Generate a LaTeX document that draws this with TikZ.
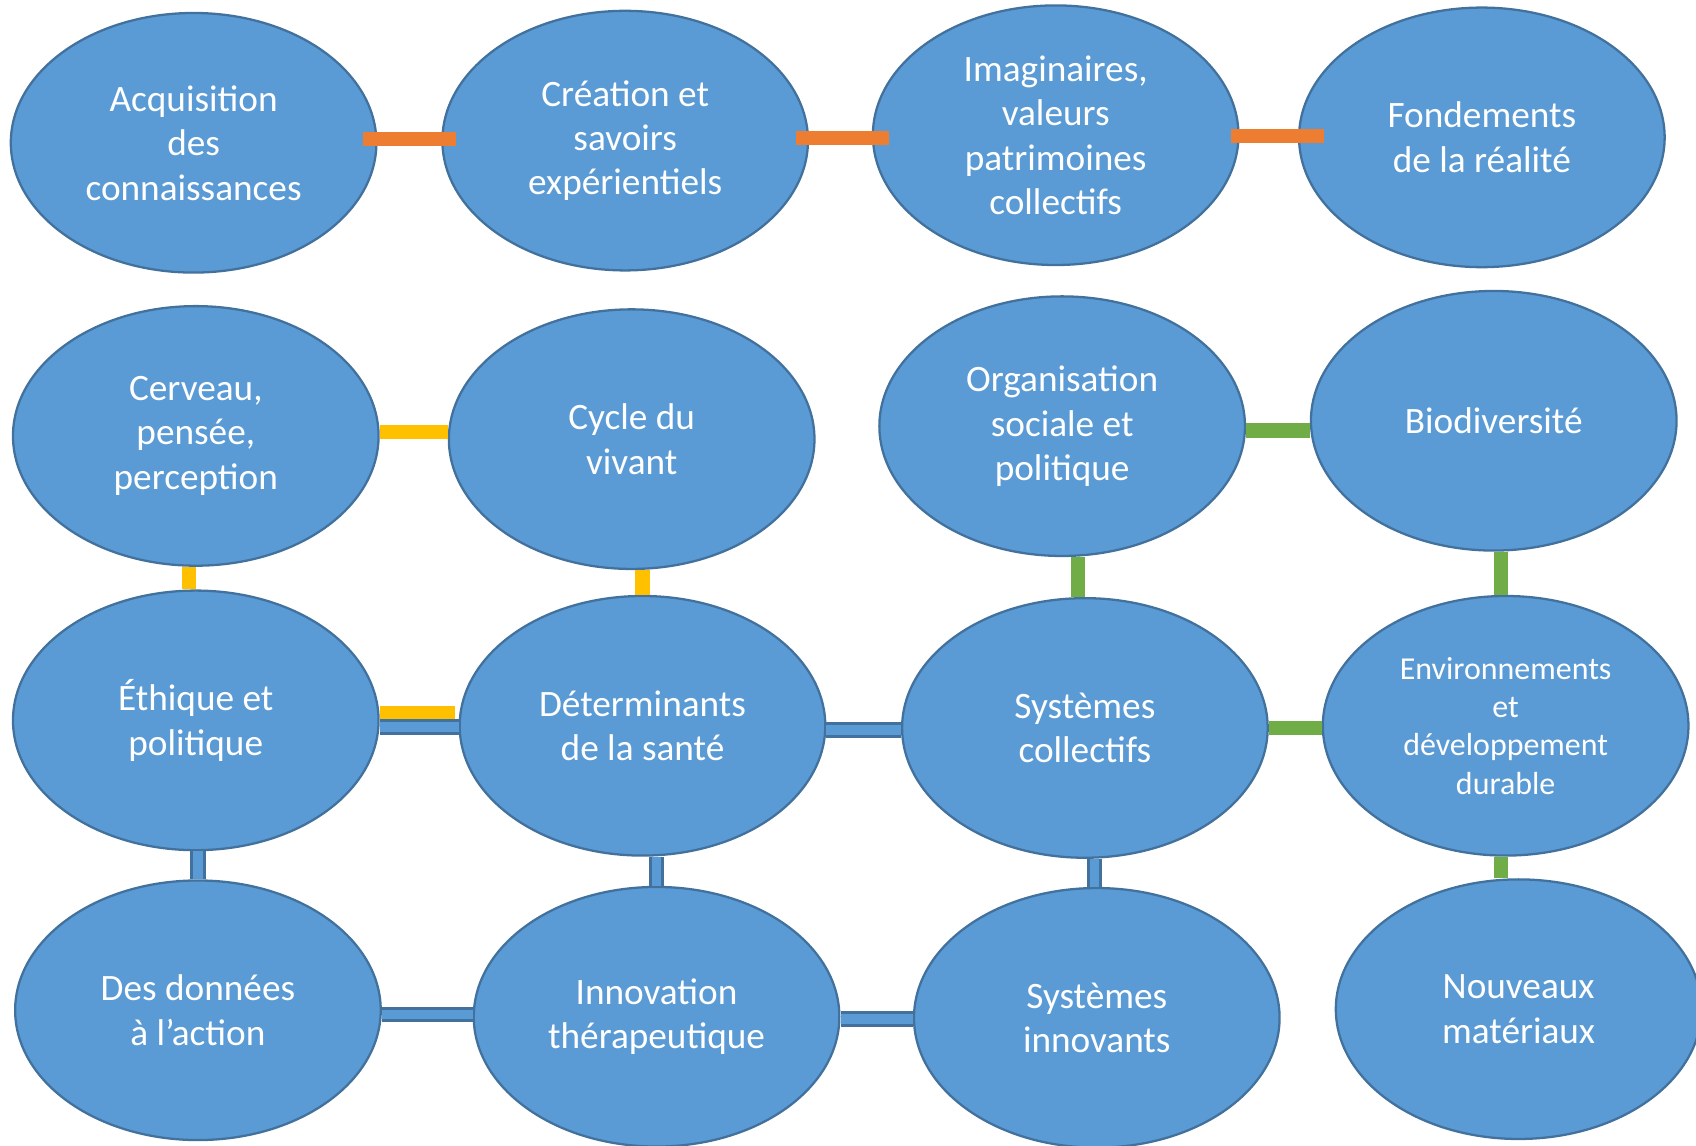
\documentclass[tikz,border=0pt]{standalone}
\usepackage{fontspec}
\setmainfont{Carlito}
\usetikzlibrary{shapes.geometric,calc}
\definecolor{bleu}{HTML}{5B9BD5}
\definecolor{bleufonce}{HTML}{41719C}
\definecolor{orangeb}{HTML}{ED7D31}
\definecolor{jauneb}{HTML}{FFC000}
\definecolor{vertb}{HTML}{70AD47}
\begin{document}
\begin{tikzpicture}[every node/.style={ellipse, fill=bleu, draw=bleufonce, line width=0.6pt, minimum width=3.38cm, minimum height=2.4cm, inner sep=0pt, align=center, text=white, font=\fontsize{9.8}{11.7}\selectfont},
orangelien/.style={draw=orangeb, line width=0.13cm},
jaunelien/.style={draw=jauneb, line width=0.13cm},
vertlien/.style={draw=vertb, line width=0.13cm},
bleulien/.style={draw=bleufonce, double=bleu, double distance=0.09cm, line width=0.75pt}]
\useasboundingbox (0,0) rectangle (15.68,-10.59);

\node (a1) at (1.79,-1.32) {Acquisition\\des\\connaissances};
\node (a2) at (5.78,-1.30) {Création et\\savoirs\\expérientiels};
\node (a3) at (9.76,-1.25) {Imaginaires,\\valeurs\\patrimoines\\collectifs};
\node (a4) at (13.70,-1.27) {Fondements\\de la réalité};

\node (b1) at (1.81,-4.03) {Cerveau,\\pensée,\\perception};
\node (b2) at (5.84,-4.06) {Cycle du\\vivant};
\node (b3) at (9.82,-3.94) {Organisation\\sociale et\\politique};
\node (b4) at (13.81,-3.89) {Biodiversité};

\node (c1) at (1.81,-6.66) {Éthique et\\politique};
\node (c2) at (5.94,-6.71) {Déterminants\\de la santé};
\node (c3) at (10.03,-6.73) {Systèmes\\collectifs};
\node[font=\fontsize{8.4}{10.1}\selectfont] (c4) at (13.92,-6.71) {Environnements\\et\\développement\\durable};

\node (d1) at (1.83,-9.34) {Des données\\à l’action};
\node (d2) at (6.07,-9.40) {Innovation\\thérapeutique};
\node (d3) at (10.14,-9.41) {Systèmes\\innovants};
\node (d4) at (14.04,-9.33) {Nouveaux\\matériaux};

\draw[orangelien] ($(a1.east)+(-0.13,0.035)$) -- ($(a1.east -| a2.west)+(0.14,0.035)$);
\draw[orangelien] ($(a2.east)+(-0.12,0.02)$) -- ($(a2.east -| a3.west)+(0.16,0.02)$);
\draw[orangelien] ($(a3.east)+(-0.08,-0.01)$) -- ($(a3.east -| a4.west)+(0.24,-0.01)$);

\draw[jaunelien] ($(b1.east)+(0,0.04)$) -- ($(b1.east -| b2.west)+(0,0.04)$);
\draw[vertlien] ($(b3.east)+(0,-0.04)$) -- ($(b3.east -| b4.west)+(0,-0.04)$);

\draw[jaunelien] ($(c1.east)+(0,0.065)$) -- ($(c1.east -| c2.west)+(-0.03,0.065)$);
\draw[bleulien] ($(c1.east)+(0,-0.06)$) -- ($(c1.east -| c2.west)+(0,-0.06)$);
\draw[bleulien] ($(c2.east)+(0,-0.04)$) -- ($(c2.east -| c3.west)+(0,-0.04)$);
\draw[vertlien] (c3.east) -- (c3.east -| c4.west);

\draw[bleulien] ($(d1.east)+(0,-0.04)$) -- ($(d1.east -| d2.west)+(0,-0.04)$);
\draw[bleulien] ($(d2.east)+(0,-0.02)$) -- ($(d2.east -| d3.west)+(0,-0.02)$);

\draw[jaunelien] ($(b1.south)+(-0.06,0)$) -- ($(c1.north -| b1.south)+(-0.06,0)$);
\draw[jaunelien] (c2.north |- b2.south) -- (c2.north);
\draw[vertlien] ($(c3.north |- b3.south)+(-0.06,0)$) -- ($(c3.north)+(-0.06,0)$);
\draw[vertlien] ($(c4.north |- b4.south)+(-0.04,0)$) -- ($(c4.north)+(-0.04,0)$);

\draw[bleulien] (d1.north |- c1.south) -- (d1.north);
\draw[bleulien] (d2.north |- c2.south) -- (d2.north);
\draw[bleulien] ($(d3.north |- c3.south)+(-0.02,0)$) -- ($(d3.north)+(-0.02,0)$);
\draw[vertlien] ($(c4.south)+(-0.04,0)$) -- ($(d4.north -| c4.south)+(-0.04,0)$);
\end{tikzpicture}
\end{document}
